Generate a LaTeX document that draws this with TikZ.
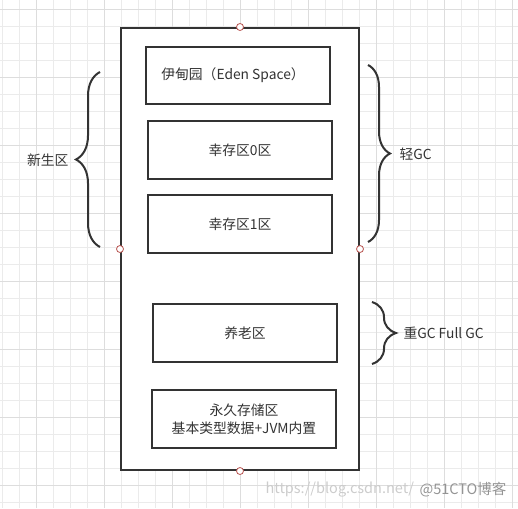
\documentclass[tikz,border=0pt]{standalone}
\usepackage{fontspec}
\setmainfont{Noto Sans CJK SC}
\usetikzlibrary{positioning, decorations.pathreplacing}
\definecolor{edge}{HTML}{333333}
\definecolor{gridline}{HTML}{EBEBEB}
\definecolor{gridmajor}{HTML}{DDDDDD}
\definecolor{pointred}{HTML}{B85450}

\tikzset{
  heap/.style={draw=edge, fill=white, line width=2pt, minimum width=238pt, minimum height=442pt, inner sep=0pt},
  area/.style={draw=edge, fill=white, line width=2pt, minimum width=184pt, minimum height=57pt, inner sep=0pt,
    font=\fontsize{13.8}{18}\selectfont, text=edge, align=center},
  port/.style={circle, draw=pointred, fill=white, minimum size=7pt, inner sep=0pt, line width=0.8pt},
  bracket/.style={decorate, decoration={brace, amplitude=#1}, draw=edge, line width=2pt},
  note/.style={font=\fontsize{13.8}{18}\selectfont, text=edge},
}

\begin{document}
\begin{tikzpicture}[x=1pt, y=-1pt]
  \useasboundingbox (0,0) rectangle (518,508);
  % background grid
  \foreach \gx in {0,...,30}
    \draw[gridline, line width=0.8pt] (2.7+17*\gx,0) -- (2.7+17*\gx,508);
  \foreach \gy in {0,...,29}
    \draw[gridline, line width=0.8pt] (0,9.3+17*\gy) -- (518,9.3+17*\gy);
  \foreach \gx in {0,...,7}
    \draw[gridmajor, line width=0.8pt] (36.7+68*\gx,0) -- (36.7+68*\gx,508);
  \foreach \gy in {0,...,7}
    \draw[gridmajor, line width=0.8pt] (0,9.3+68*\gy) -- (518,9.3+68*\gy);

  % heap and its areas
  \node[heap] (heap) at (240,249) {};
  \node[area] (eden) at (238,75.5) {\hspace*{-10pt}伊甸园（Eden Space）};
  \node[area, minimum height=58pt] (s0) at (240,150) {幸存区0区};
  \node[area, minimum height=58pt] (s1) at (240,224) {幸存区1区};
  \node[area, minimum height=58pt] (old) at (245,333) {养老区};
  \node[area, minimum height=58pt] (perm) at (244,419) {永久存储区\\基本类型数据+JVM内置};

  \node[port] (pn) at (heap.north) {};
  \node[port] (pw) at (heap.west) {};
  \node[port] (pe) at (heap.east) {};
  \node[port] (ps) at (heap.south) {};

  % braces
  \coordinate (youngbot) at (100,247);
  \coordinate (youngtop) at (100,72);
  \coordinate (minortop) at (368,65);
  \coordinate (minorbot) at (368,242);
  \coordinate (majortop) at (372,302);
  \coordinate (majorbot) at (372,364);
  \draw[bracket=24pt] (youngbot) -- (youngtop);
  \draw[bracket=22pt] (minortop) -- (minorbot);
  \draw[bracket=24pt] (majortop) -- (majorbot);

  \node[note, anchor=east] (young) at (72,160) {新生区};
  \node[note, anchor=west] (minor) at (396,154) {轻GC};
  \node[note, anchor=west] (major) at (400,333) {重GC Full GC};

  % watermark
  \node[font=\fontsize{14.5}{16}\selectfont, text=black!20, anchor=west] (wmurl) at (262,490) {https://blog.csdn.net/};
  \node[font=\fontsize{14.5}{16}\selectfont, text=black!42, anchor=east] (wmsite) at (510,490) {@51CTO博客};
\end{tikzpicture}
\end{document}
